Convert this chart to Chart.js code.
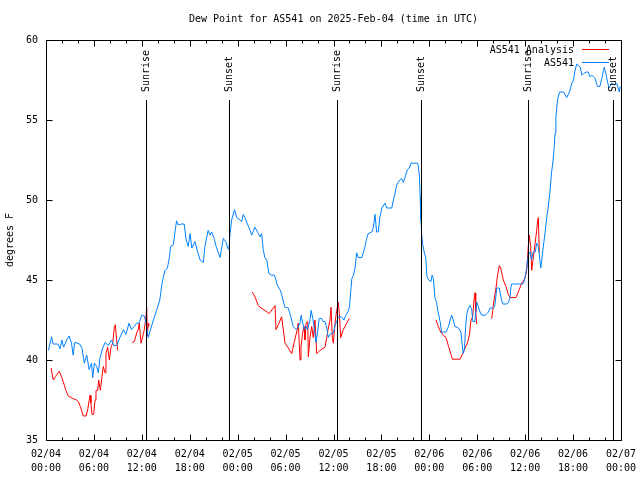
<!DOCTYPE html>
<html>
<head>
<meta charset="utf-8">
<script src="https://cdn.jsdelivr.net/npm/chart.js@4"></script>
<style>
body { margin: 0; background: #fff; }
</style>
</head>
<body>
<canvas id="dewChart" width="640" height="480"></canvas>
<script>
// hours since 02/04 00:00 UTC, dew point in deg F
const blueHours = [
  0.3,0.7,0.9,1.5,1.75,2.0,2.2,2.6,2.9,3.2,
  3.4,3.6,4.2,4.5,4.8,5.1,5.4,5.7,5.85,6.05,
  6.35,6.55,6.75,7.1,7.4,7.8,8.2,8.5,8.85,9.25,
  9.7,10.0,10.4,10.7,11.05,11.35,11.65,12.0,12.3,12.5,
  12.7,12.8,13.0,13.45,13.85,14.25,14.5,14.7,14.9,15.2,
  15.45,15.6,15.95,16.15,16.35,16.55,17.0,17.3,17.55,17.8,
  18.05,18.25,18.65,18.85,19.3,19.7,19.9,20.3,20.55,20.75,
  21.05,21.3,21.8,22.2,22.55,22.75,22.9,23.05,23.25,23.6,
  23.9,24.3,24.5,24.7,24.9,25.15,25.55,25.75,26.15,26.6,
  26.8,27.0,27.2,27.4,27.65,27.9,28.25,28.6,28.8,28.95,
  29.3,29.5,29.9,30.35,30.65,30.95,31.3,31.5,31.8,31.95,
  32.15,32.35,32.55,32.75,33.05,33.2,33.4,33.6,33.8,34.0,
  34.2,34.5,34.7,34.95,35.15,35.35,35.55,36.0,36.2,36.4,
  36.6,37.0,37.3,37.55,37.8,38.0,38.15,38.3,38.5,38.7,
  38.9,39.1,39.55,39.75,39.95,40.15,40.35,40.8,41.0,41.2,
  41.4,41.6,41.8,42.05,42.45,42.65,43.3,43.5,43.7,43.9,
  44.1,44.3,44.55,44.75,44.95,45.25,45.5,45.7,46.55,46.75,
  46.85,46.95,47.05,47.15,47.35,47.55,47.7,47.95,48.2,48.35,
  48.5,48.7,48.9,49.1,49.35,49.55,49.75,50.1,50.4,50.6,
  50.8,51.0,51.2,51.65,51.95,52.05,52.25,52.4,52.55,52.7,
  52.9,53.1,53.3,53.45,53.7,53.95,54.15,54.35,54.55,55.0,
  55.2,55.4,55.6,56.0,56.2,56.45,56.75,57.05,57.2,57.7,
  57.9,58.1,58.2,58.3,59.7,59.85,60.0,60.2,60.4,60.6,
  60.8,61.0,61.25,61.45,61.65,61.75,61.95,62.05,62.25,62.5,
  62.7,62.9,63.1,63.3,63.5,63.65,63.75,63.85,64.05,64.3,
  64.8,65.2,65.55,65.85,66.05,66.25,66.45,66.9,67.1,67.3,
  67.7,67.9,68.1,68.35,68.75,69.05,69.35,69.6,69.8,69.9,
  70.1,70.35,70.5,70.85,71.25,71.45,71.8,71.9
];
const blueValues = [
  40.6,41.45,41.0,41.0,40.7,41.25,40.8,41.25,41.5,41.05,
  40.3,41.1,41.0,40.75,39.8,40.3,39.4,39.8,38.9,39.8,
  39.6,39.2,40.1,40.75,41.1,40.9,41.25,40.9,40.9,41.4,
  41.9,41.6,42.3,41.9,42.1,42.3,42.3,42.8,42.75,42.4,
  41.75,41.4,41.75,42.5,43.1,43.75,44.7,45.2,45.6,45.75,
  46.4,47.1,47.2,48.0,48.7,48.45,48.5,48.5,47.5,47.1,
  47.9,47.0,47.4,47.0,46.25,46.1,47.1,48.1,47.8,48.0,
  47.6,47.1,46.4,47.6,47.35,47.0,46.9,47.9,48.75,49.4,
  48.9,48.75,48.65,49.1,48.9,48.6,48.1,47.8,48.3,47.9,
  47.7,47.9,46.9,46.4,46.25,45.4,45.3,45.3,45.0,44.7,
  44.4,44.1,43.3,43.25,42.7,42.1,41.9,42.0,42.3,42.8,
  42.3,41.9,42.1,41.9,42.5,43.1,42.6,42.0,41.1,41.7,
  42.6,42.6,42.4,42.4,42.0,41.4,41.6,41.7,42.2,42.4,
  42.7,42.7,42.5,42.8,43.0,43.3,44.25,45.1,45.3,45.75,
  46.7,46.4,46.4,46.75,47.1,47.6,47.9,48.0,48.3,49.1,
  48.0,48.0,48.9,49.5,49.8,49.5,49.5,50.0,50.4,50.9,
  51.1,51.25,51.35,51.1,51.4,51.9,52.0,52.3,52.3,51.6,
  50.2,48.75,47.8,47.3,46.75,46.4,45.2,45.0,44.9,45.3,
  45.1,43.9,43.6,43.0,42.4,41.7,41.75,41.75,42.1,42.5,
  42.8,42.5,42.1,42.0,41.75,41.25,40.4,40.7,42.1,42.9,
  43.25,43.4,43.2,42.4,42.4,43.6,43.3,43.0,42.8,42.8,
  42.9,43.0,43.25,43.25,43.4,44.5,44.5,43.75,43.5,43.5,
  43.6,43.9,44.5,44.75,44.75,44.9,45.2,45.75,46.6,46.75,
  46.25,46.75,46.75,47.3,47.1,46.7,45.75,46.1,47.0,48.0,
  48.9,49.6,50.5,51.7,52.5,53.4,54.2,55.2,56.25,56.75,
  56.75,56.4,56.75,57.3,57.5,58.1,58.5,58.3,57.8,57.9,
  58.0,58.0,57.7,57.8,57.6,57.1,57.1,57.6,58.1,58.3,
  57.9,57.3,57.0,57.3,57.2,57.3,56.75,57.1
];
// analysis series, null = no data
const redHours = [
  0.63,0.91,1.16,1.67,2.09,2.5,2.79,3.34,3.84,4.04,
  4.3,4.67,5.01,5.22,5.51,5.63,5.76,5.97,6.14,6.26,
  6.47,6.6,6.8,7.01,7.18,7.39,7.51,7.73,7.93,8.14,
  8.35,8.55,8.68,8.85,8.98,9.9,
  10.77,11.06,11.36,11.56,11.68,11.9,12.11,12.31,12.52,12.61,12.68,12.81,12.86,19.0,
  25.83,26.17,26.58,26.8,27.42,27.96,28.46,28.68,28.8,29.09,
  29.51,29.93,30.34,30.77,31.05,31.39,31.59,31.81,31.93,32.14,
  32.31,32.43,32.56,32.77,32.85,33.06,33.27,33.47,33.68,33.9,
  34.31,34.94,35.15,35.35,35.56,35.69,35.85,35.98,36.19,36.4,
  36.6,36.73,36.9,37.23,37.65,37.98,43.0,
  48.84,49.12,49.42,49.75,50.09,50.38,50.68,50.88,51.84,52.18,
  52.47,52.76,53.01,53.22,53.43,53.59,53.72,53.81,53.93,54.8,
  55.81,55.94,56.1,56.35,56.51,56.76,56.94,57.26,57.6,57.89,
  58.1,58.85,59.14,59.57,59.98,60.19,60.39,60.52,60.69,60.82,
  61.02,61.32,61.44,61.57,61.65,61.77
];
const redValues = [
  39.5,38.75,38.95,39.3,38.75,38.1,37.75,37.6,37.5,37.4,
  37.1,36.5,36.5,36.9,37.8,37.3,36.6,36.6,37.5,38.1,
  38.1,38.75,38.1,38.95,39.6,39.2,40.4,40.8,40.0,40.8,
  41.05,42.0,42.2,41.25,40.6,null,
  41.1,41.15,41.7,41.9,42.3,41.05,41.45,41.9,42.7,43.3,41.5,42.3,42.1,null,
  44.25,43.95,43.4,43.3,43.1,42.9,43.25,43.4,41.9,42.2,
  42.7,41.05,40.75,40.4,41.05,41.75,42.3,40.0,40.8,41.7,
  42.1,41.25,42.3,42.4,40.2,41.4,42.1,41.4,42.5,40.4,
  40.6,40.8,41.4,42.0,42.5,43.3,41.4,41.05,42.3,43.1,
  43.6,42.9,41.4,41.9,42.3,42.6,null,
  42.5,42.1,41.75,41.55,41.4,40.9,40.4,40.05,40.05,40.4,
  40.75,41.05,41.55,42.5,42.7,43.75,44.2,43.0,42.25,null,
  42.6,43.1,43.75,44.5,45.2,45.9,45.75,45.0,44.6,44.1,
  43.9,43.9,44.25,44.8,45.1,45.6,47.1,47.8,47.1,45.6,
  46.4,47.6,48.1,48.75,48.9,46.7
];
const sunHours = [12.52, 22.9, 36.4, 46.9, 60.4, 70.96];
const sunNames = ['Sunrise', 'Sunset', 'Sunrise', 'Sunset', 'Sunrise', 'Sunset'];
const dayLabels = ['02/04', '02/05', '02/06', '02/07'];

const monoFont = '10px "DejaVu Sans Mono"';

function toPoints(hours, values) {
  return hours.map((h, i) => ({ x: h, y: values[i] }));
}

function crisp(v) {
  return Math.round(v) + 0.5;
}

// gnuplot style frame, ticks, sun markers, title and key
const gnuplotFrame = {
  id: 'gnuplotFrame',
  afterDatasetsDraw(chart) {
    let ctx = chart.ctx;
    let area = chart.chartArea;
    let xs = chart.scales.x;
    let ys = chart.scales.y;
    let left = crisp(area.left), right = crisp(area.right);
    let top = crisp(area.top), bottom = crisp(area.bottom);

    ctx.save();
    ctx.strokeStyle = '#000';
    ctx.fillStyle = '#000';
    ctx.lineWidth = 1;
    ctx.font = monoFont;

    // sunrise / sunset lines
    for (let i = 0; i < sunHours.length; i++) {
      let x = crisp(xs.getPixelForValue(sunHours[i]));
      ctx.beginPath();
      ctx.moveTo(x, 100);
      ctx.lineTo(x, bottom);
      ctx.stroke();
      ctx.save();
      ctx.translate(x, 92);
      ctx.rotate(-Math.PI / 2);
      ctx.textAlign = 'left';
      ctx.textBaseline = 'middle';
      ctx.fillText(sunNames[i], 0, 0);
      ctx.restore();
    }

    // border
    ctx.strokeRect(left, top, right - left, bottom - top);

    // x ticks, major every 6h, minor every 2h
    ctx.beginPath();
    for (let h = 0; h <= 72; h += 2) {
      let x = crisp(xs.getPixelForValue(h));
      let len = (h % 6 === 0) ? 6 : 3;
      ctx.moveTo(x, bottom);
      ctx.lineTo(x, bottom - len);
      ctx.moveTo(x, top);
      ctx.lineTo(x, top + len);
    }
    // y ticks
    for (let v = 35; v <= 60; v += 5) {
      let y = crisp(ys.getPixelForValue(v));
      ctx.moveTo(left, y);
      ctx.lineTo(left + 6, y);
      ctx.moveTo(right, y);
      ctx.lineTo(right - 6, y);
    }
    ctx.stroke();

    // title
    ctx.textAlign = 'center';
    ctx.textBaseline = 'middle';
    ctx.fillText('Dew Point for AS541 on 2025-Feb-04 (time in UTC)', (area.left + area.right) / 2, 19);

    // y axis title
    ctx.save();
    ctx.translate(10, (area.top + area.bottom) / 2);
    ctx.rotate(-Math.PI / 2);
    ctx.fillText('degrees F', 0, 0);
    ctx.restore();

    // key
    let key = chart.data.datasets.slice().reverse();
    ctx.textAlign = 'right';
    for (let i = 0; i < key.length; i++) {
      let y = 50 + i * 13;
      ctx.fillStyle = '#000';
      ctx.fillText(key[i].label, 574, y);
      ctx.strokeStyle = key[i].borderColor;
      ctx.beginPath();
      ctx.moveTo(582, crisp(y - 1));
      ctx.lineTo(609, crisp(y - 1));
      ctx.stroke();
    }
    ctx.restore();
  }
};

let dewChart = new Chart(document.getElementById('dewChart'), {
  type: 'line',
  data: {
    datasets: [
      {
        label: 'AS541',
        data: toPoints(blueHours, blueValues),
        borderColor: '#0080ff',
        borderWidth: 1,
        pointRadius: 0,
        tension: 0
      },
      {
        label: 'AS541 Analysis',
        data: toPoints(redHours, redValues),
        borderColor: '#ff0000',
        borderWidth: 1,
        pointRadius: 0,
        tension: 0,
        spanGaps: false
      }
    ]
  },
  options: {
    responsive: false,
    animation: false,
    layout: { padding: { top: 40, right: 19, left: 0, bottom: 0 } },
    plugins: {
      legend: { display: false },
      title: { display: false },
      tooltip: { enabled: false }
    },
    scales: {
      x: {
        type: 'linear',
        min: 0,
        max: 72,
        grid: { display: false, drawTicks: false },
        border: { display: false },
        ticks: {
          stepSize: 6,
          autoSkip: false,
          maxRotation: 0,
          padding: 7,
          color: '#000',
          font: { family: 'DejaVu Sans Mono', size: 10, lineHeight: 1.4 },
          callback: function (v) {
            let day = dayLabels[Math.floor(v / 24)];
            let hr = v % 24;
            return [day, (hr < 10 ? '0' : '') + hr + ':00'];
          }
        },
        afterFit(scale) {
          scale.height = 40;
          scale.paddingLeft = 0;
          scale.paddingRight = 0;
        }
      },
      y: {
        min: 35,
        max: 60,
        grid: { display: false, drawTicks: false },
        border: { display: false },
        ticks: {
          stepSize: 5,
          padding: 8,
          color: '#000',
          font: { family: 'DejaVu Sans Mono', size: 10 }
        },
        afterFit(scale) {
          scale.width = 46;
          scale.paddingTop = 0;
          scale.paddingBottom = 0;
        }
      }
    }
  },
  plugins: [gnuplotFrame]
});
</script>
</body>
</html>
